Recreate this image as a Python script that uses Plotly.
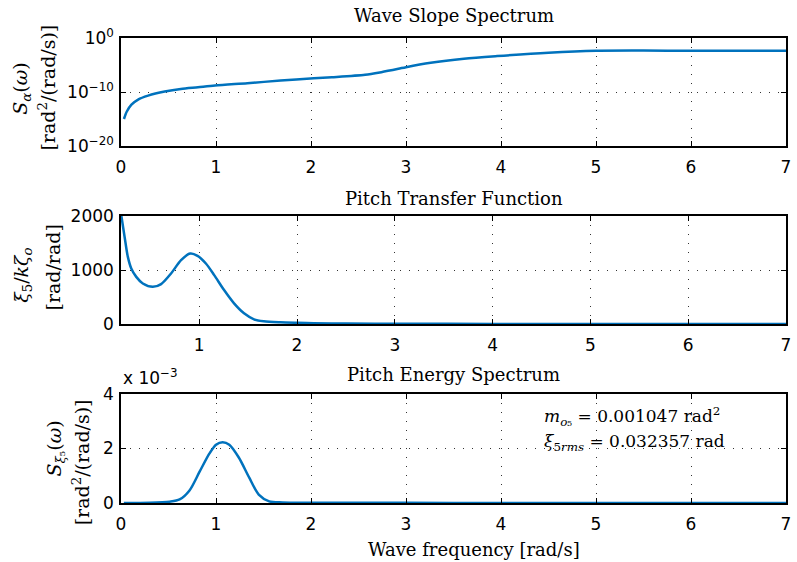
import plotly.graph_objects as go

# ---- Panel 1: Wave slope spectrum (log scale) ----
w_slope = [0.031, 0.06, 0.11, 0.18, 0.285, 0.46, 0.63, 0.81, 0.99, 1.33, 1.68, 2.03,
           2.22, 2.57, 2.74, 2.92, 3.0, 3.26, 3.61, 3.96, 4.5, 5.0, 5.5, 6.0, 6.5, 7.0]
S_slope = [1e-15, 2.2e-14, 4.5e-13, 4e-12, 2.1e-11, 1.2e-10, 3.7e-10, 7.6e-10, 1.6e-9,
           4.3e-9, 1.3e-8, 3.6e-8, 5.5e-8, 1.5e-7, 4.7e-7, 2e-6, 4e-6, 2.6e-5, 1.45e-4,
           4.5e-4, 1.9e-3, 4.3e-3, 4.7e-3, 4.4e-3, 4.5e-3, 4.5e-3]

# ---- Panel 2: Pitch transfer function ----
w_tf = [0.204, 0.237, 0.27, 0.305, 0.356, 0.423, 0.525, 0.61, 0.712, 0.814, 0.908, 0.983,
        1.068, 1.153, 1.254, 1.356, 1.458, 1.56, 1.66, 1.83, 2.0, 2.17, 2.5, 3.0, 4.0, 5.0, 6.0, 7.0]
tf = [2000, 1612, 1243, 1028, 873, 751, 689, 739, 936, 1182, 1305, 1262,
      1120, 905, 628, 382, 198, 87, 50, 31, 22, 15, 8, 4, 2, 1, 0.7, 0.5]

# ---- Panel 3: Pitch energy spectrum (x 1e-3) ----
w_en = [0.03, 0.303, 0.512, 0.617, 0.721, 0.826, 0.93, 1.0, 1.07, 1.14, 1.24, 1.35, 1.45,
        1.56, 1.70, 2.0, 3.0, 4.0, 5.0, 6.0, 7.0]
S_en = [0.0, 0.01, 0.05, 0.13, 0.46, 1.14, 1.81, 2.14, 2.23, 2.14, 1.67, 0.93, 0.31,
        0.06, 0.02, 0.01, 0.005, 0.004, 0.003, 0.002, 0.002]

titles = ["Wave Slope Spectrum", "Pitch Transfer Function", "Pitch Energy Spectrum"]
x_ticks = [0, 1, 2, 3, 4, 5, 6, 7]
log_tickvals = [1e-20, 1e-10, 1]
log_ticktext = ["10<sup>\u221220</sup>", "10<sup>\u221210</sup>", "10<sup>0</sup>"]

W, H = 797, 562
ML, MR, MT, MB = 121, 6, 38, 59
PW, PH = W - ML - MR, H - MT - MB


def px(x):
    return (x - ML) / PW


def py(y):
    return (H - MB - y) / PH


BLUE = "#0072BD"
fig = go.Figure()
fig.add_trace(go.Scatter(x=w_slope, y=S_slope, mode="lines", xaxis="x", yaxis="y",
                         line=dict(color=BLUE, width=2.5, shape="spline", smoothing=0.8)))
fig.add_trace(go.Scatter(x=w_tf, y=tf, mode="lines", xaxis="x2", yaxis="y2",
                         line=dict(color=BLUE, width=2.5, shape="spline", smoothing=0.8)))
fig.add_trace(go.Scatter(x=w_en, y=S_en, mode="lines", xaxis="x3", yaxis="y3",
                         line=dict(color=BLUE, width=2.5, shape="spline", smoothing=0.8)))

tickfont = dict(family="DejaVu Sans", size=17, color="black")
common = dict(showline=True, linecolor="black", linewidth=1.5, mirror="ticks",
              ticks="inside", ticklen=5, tickcolor="black", tickwidth=1,
              showgrid=True, gridcolor="#333", gridwidth=1, griddash="1px,8px",
              zeroline=False, tickfont=tickfont)

doms = [(py(146), py(38)), (py(324), py(216)), (py(503), py(394))]

fig.update_layout(
    width=W, height=H, margin=dict(l=ML, r=MR, t=MT, b=MB),
    paper_bgcolor="white", plot_bgcolor="white", showlegend=False,
    xaxis=dict(domain=[0, 1], range=[0, 7], tickvals=x_ticks, anchor="y", ticklabelstandoff=5, **common),
    yaxis=dict(domain=list(doms[0]), type="log", range=[-20, 0], tickvals=log_tickvals,
               ticktext=log_ticktext, anchor="x", ticklabelstandoff=2, **common),
    xaxis2=dict(domain=[0, 1], range=[0.2, 7], tickvals=x_ticks[1:], anchor="y2", ticklabelstandoff=5, **common),
    yaxis2=dict(domain=list(doms[1]), range=[0, 2000], tickvals=[0, 1000, 2000], anchor="x2", ticklabelstandoff=2, **common),
    xaxis3=dict(domain=[0, 1], range=[0, 7], tickvals=x_ticks, anchor="y3", ticklabelstandoff=5, **common),
    yaxis3=dict(domain=list(doms[2]), range=[0, 4], tickvals=[0, 2, 4], anchor="x3", ticklabelstandoff=2, **common),
)

serif = "DejaVu Serif"
ann = []
for t, y in zip(titles, [16, 198, 374]):
    ann.append(dict(text=t, x=0.5, y=py(y), xref="paper", yref="paper", showarrow=False,
                    xanchor="center", yanchor="middle", font=dict(family=serif, size=18, color="black")))
ann.append(dict(text="Wave frequency [rad/s]", x=px(477), y=py(549), xref="paper", yref="paper",
                showarrow=False, xanchor="center", yanchor="middle",
                font=dict(family=serif, size=18, color="black")))

ylabels = [
    ("<i>S</i><sub><i>\u03b1</i></sub>(<i>\u03c9</i>)", 21, 89),
    ("[rad<sup>2</sup>/(rad/s)]", 46, 88),
    ("<i>\u03be</i><sub>5</sub>/<i>k\u03b6</i><sub><i>o</i></sub>", 21, 275),
    ("[rad/rad]", 52, 268),
    ("<i>S</i><sub><i>\u03be</i>\u2085</sub>(<i>\u03c9</i>)", 55, 448),
    ("[rad<sup>2</sup>/(rad/s)]", 81, 462),
]
for txt, x, y in ylabels:
    ann.append(dict(text=txt, x=px(x), y=py(y), xref="paper", yref="paper", showarrow=False,
                    textangle=-90, xanchor="center", yanchor="middle",
                    font=dict(family=serif, size=19, color="black")))

ann.append(dict(text="x 10<sup>\u22123</sup>", x=px(121), y=py(377), xref="paper", yref="paper",
                showarrow=False, xanchor="left", yanchor="middle",
                font=dict(family="DejaVu Sans", size=17, color="black")))
ann.append(dict(text="<i>m</i><sub><i>o</i>\u2085</sub> = 0.001047 rad<sup>2</sup>", x=px(545), y=py(416),
                xref="paper", yref="paper", showarrow=False, xanchor="left", yanchor="middle",
                font=dict(family=serif, size=17, color="black")))
ann.append(dict(text="<i>\u03be</i><sub>5<i>rms</i></sub> = 0.032357 rad", x=px(545), y=py(442),
                xref="paper", yref="paper", showarrow=False, xanchor="left", yanchor="middle",
                font=dict(family=serif, size=17, color="black")))
fig.update_layout(annotations=ann)

fig.write_html("out.html")
